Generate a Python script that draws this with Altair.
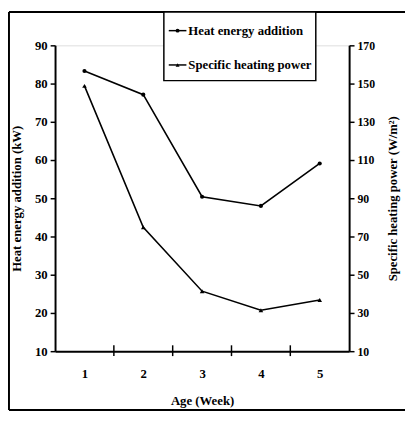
import altair as alt
import pandas as pd

weeks = [1, 2, 3, 4, 5]
heat_energy = [83.3, 77.1, 50.4, 48.0, 59.1]
specific_power = [148.8, 74.8, 41.4, 31.4, 36.8]
x_ticks = [1.5, 2.5, 3.5, 4.5]
legend_names = ["Heat energy addition", "Specific heating power"]

FONT = "Liberation Serif"
W, H = 300, 312

df = pd.DataFrame({"week": weeks, "heat": heat_energy, "power": specific_power})
tick_df = pd.DataFrame({"t": x_ticks})
one = alt.Data(values=[{}])

xscale = alt.Scale(domain=[0.5, 5.5], nice=False, zero=False)
xaxis = alt.Axis(values=weeks, ticks=False, domain=True, domainWidth=2, domainColor="black",
                 labelFont=FONT, labelFontWeight="bold", labelFontSize=13, labelPadding=17,
                 labelColor="black", title="Age (Week)", titleFont=FONT, titleFontWeight="bold",
                 titleFontSize=13, titlePadding=14, titleColor="black", grid=False, format="d")

laxis = alt.Axis(values=list(range(10, 91, 10)), title="Heat energy addition (kW)",
                 labelFont=FONT, labelFontWeight="bold", labelFontSize=13, labelColor="black",
                 titleFont=FONT, titleFontWeight="bold", titleFontSize=13, titleColor="black",
                 titlePadding=11, tickSize=5, tickWidth=1.5, tickColor="black",
                 domainWidth=2, domainColor="black", grid=False, labelPadding=3)
raxis = alt.Axis(values=list(range(10, 171, 20)), title="Specific heating power (W/m²)",
                 orient="right", titleAngle=270, titleX=44, titleY=H / 2,
                 titleAlign="center", titleBaseline="middle",
                 labelFont=FONT, labelFontWeight="bold", labelFontSize=12, labelColor="black",
                 titleFont=FONT, titleFontWeight="bold", titleFontSize=13, titleColor="black",
                 tickSize=5, tickWidth=1.5, tickColor="black",
                 domainWidth=2, domainColor="black", grid=False, labelPadding=3)

base = alt.Chart(df)
x_enc = alt.X("week:Q", scale=xscale, axis=xaxis)

yl = alt.Y("heat:Q", scale=alt.Scale(domain=[10, 90], nice=False, zero=False), axis=laxis)
left = alt.layer(
    base.mark_line(color="black", strokeWidth=1.6).encode(x=x_enc, y=yl),
    base.mark_point(shape="circle", filled=True, color="black", size=18, opacity=1).encode(x=x_enc, y=yl),
)

yr = alt.Y("power:Q", scale=alt.Scale(domain=[10, 170], nice=False, zero=False), axis=raxis)
right = alt.layer(
    base.mark_line(color="black", strokeWidth=1.6).encode(x=x_enc, y=yr),
    base.mark_point(shape="triangle-up", filled=True, color="black", size=22, opacity=1).encode(x=x_enc, y=yr),
)

ticks = alt.Chart(tick_df).mark_rule(color="black", strokeWidth=1.5).encode(
    x=alt.X("t:Q", scale=xscale, axis=xaxis),
    y=alt.value(H - 6), y2=alt.value(H + 5),
)

frame_style = dict(color="black", strokeWidth=2)
frame = alt.layer(
    alt.Chart(one).mark_rule(**frame_style).encode(x=alt.value(-47), y=alt.value(-34), y2=alt.value(372)),
    alt.Chart(one).mark_rule(**frame_style).encode(x=alt.value(-47), x2=alt.value(357), y=alt.value(-34)),
    alt.Chart(one).mark_rule(**frame_style).encode(x=alt.value(-47), x2=alt.value(357), y=alt.value(372)),
)

leg_df = pd.DataFrame({"name": legend_names})
legend_box = alt.Chart(one).mark_rect(fill="white", stroke="black", strokeWidth=1.5).encode(
    x=alt.value(111), x2=alt.value(266), y=alt.value(-34), y2=alt.value(36))
legend_layers = [legend_box]
for i, (nm, shp) in enumerate(zip(legend_names, ["circle", "triangle-up"])):
    yy = -15 if i == 0 else 20
    lc = alt.Chart(leg_df).transform_filter(alt.datum.name == nm)
    legend_layers += [
        lc.mark_rule(color="black", strokeWidth=1.5).encode(x=alt.value(116), x2=alt.value(134), y=alt.value(yy)),
        lc.mark_point(shape=shp, filled=True, color="black", size=16, opacity=1).encode(x=alt.value(125), y=alt.value(yy)),
        lc.mark_text(font=FONT, fontWeight="bold", fontSize=13, align="left", baseline="middle",
                     color="black").encode(x=alt.value(136), y=alt.value(yy), text="name:N"),
    ]
legend = alt.layer(*legend_layers)

chart = alt.layer(frame, left, right, ticks, legend).resolve_scale(y="independent").properties(
    width=W, height=H,
    autosize=alt.AutoSizeParams(type="none"),
    padding={"left": 48, "top": 34, "right": 57, "bottom": 61},
).configure_view(stroke=None).configure(background="white")

chart.save("out.html", embed_options={"renderer": "svg", "actions": False})
